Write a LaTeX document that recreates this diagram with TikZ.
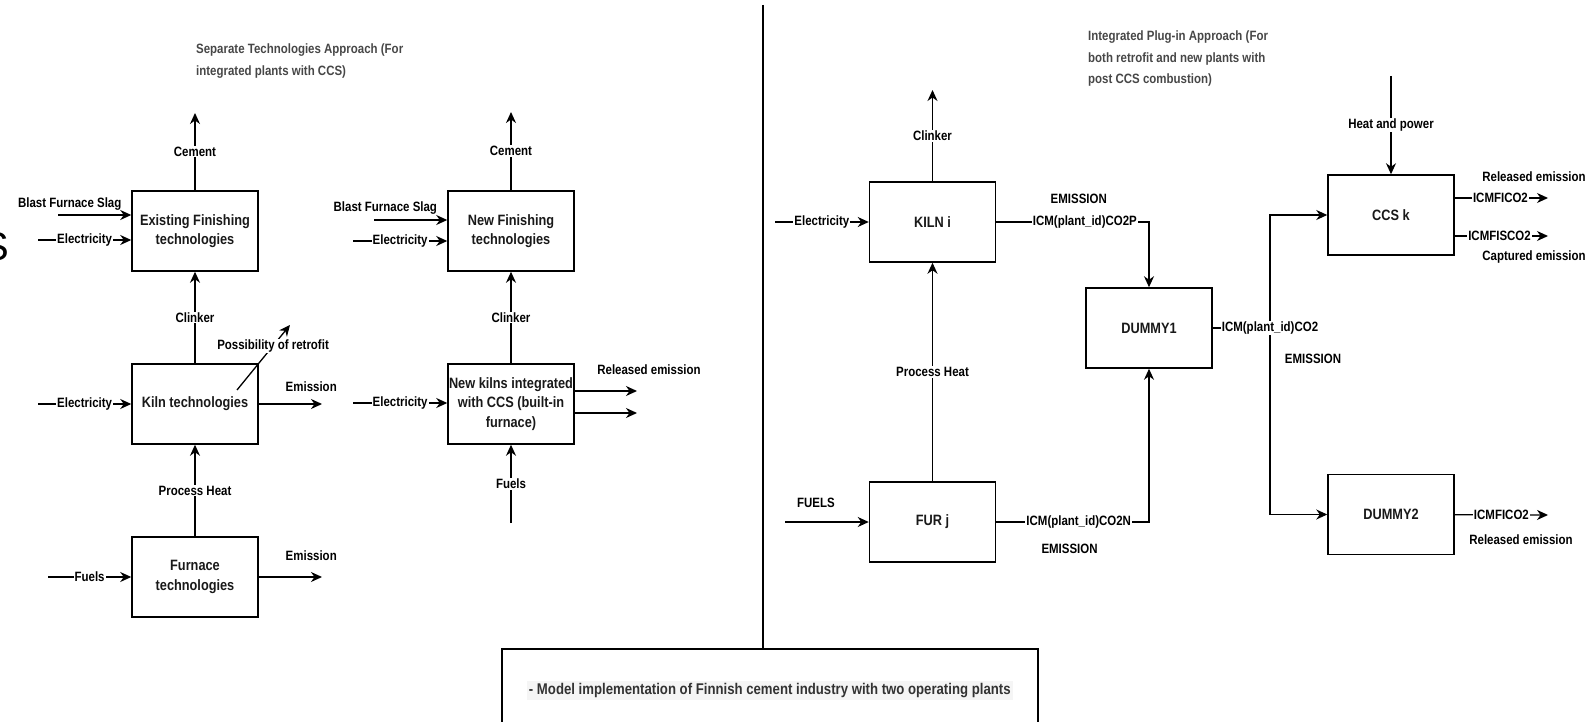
\documentclass[tikz,border=0pt]{standalone}
\usepackage{fontspec}
\setmainfont{Liberation Sans}[FakeStretch=0.85]
\newfontfamily\bigletter{Liberation Sans}
\usetikzlibrary{arrows.meta}
\newcommand{\lblsize}{\fontsize{13.5}{16}\selectfont\bfseries}
\newcommand{\boxsize}{\fontsize{15}{19.5}\selectfont\bfseries}
\newcommand{\ttlsize}{\fontsize{13.5}{21.5}\selectfont\bfseries}
\newcommand{\notesize}{\fontsize{15.5}{18}\selectfont\bfseries}

\begin{document}
\begin{tikzpicture}[x=1pt,y=-1pt,
	tech/.style={draw,line width=1.5pt,minimum width=126pt,minimum height=80pt,align=center,inner sep=1pt,font=\boxsize,text=black!90},
	flow/.style={line width=1.3pt,-{Stealth[length=11pt,width=10pt,inset=3.5pt]}},
	wire/.style={line width=1.3pt},
	lbl/.style={font=\lblsize,inner sep=1pt},
	onl/.style={lbl,fill=white},
	ttl/.style={font=\ttlsize,text=black!72,align=left,anchor=west,inner sep=0pt}]
			\useasboundingbox (0,0) rectangle (1595,722);
			\node[font=\bigletter\fontsize{40}{40}\selectfont,anchor=east,inner sep=0pt] (bigS) at (9.5,247) {S};
			\node[ttl] (ttlsep) at (196,61) {Separate Technologies Approach (For\\integrated plants with CCS)};
			\node[ttl] (ttlplug) at (1088,59) {Integrated Plug-in Approach (For\\both retrofit and new plants with\\post CCS combustion)};
			\node[tech] (ef) at (195,231) {Existing Finishing\\technologies};
			\node[tech] (kiln) at (195,404) {Kiln technologies};
			\node[tech] (fur) at (195,577) {Furnace\\technologies};
			\node[tech] (nf) at (511,231) {New Finishing\\technologies};
			\node[tech] (nk) at (511,404) {New kilns integrated\\with CCS (built-in\\furnace)};
			\node[tech] (kilni) at (932.5,222) {KILN i};
			\node[tech] (furj) at (932.5,522) {FUR j};
			\node[tech] (dummy1) at (1149,328) {DUMMY1};
			\node[tech] (ccs) at (1391,215) {CCS k};
			\node[tech] (dummy2) at (1391,514.5) {DUMMY2};
			\node[draw,line width=1.5pt,minimum width=536pt,minimum height=84pt,anchor=north west] (note) at (501,648) {};
			\node[font=\notesize,text=black!80,fill=black!4,inner sep=2pt] (notetxt) at (note.center) {- Model implementation of Finnish cement industry with two operating plants};
			\coordinate (divtop) at (763,5);
			\draw[wire] (divtop) -- (divtop |- note.north);
			\coordinate (cem1) at (195,113);
			\coordinate (slag1) at (58,215);
			\coordinate (elec1) at (38,240);
			\coordinate (elec2) at (38,404);
			\coordinate (em1) at (322,404);
			\coordinate (rt1) at (237,390);
			\coordinate (rt2) at (290,325);
			\coordinate (fuel1) at (48,577);
			\coordinate (em2) at (322,577);
			\draw[flow] (ef) -- node[onl] {Cement} (cem1);
			\draw[flow] (slag1) -- node[lbl,pos=0.16,yshift=11pt] {Blast Furnace Slag} (slag1 -| ef.west);
			\draw[flow] (elec1) -- node[onl] {Electricity} (elec1 -| ef.west);
			\draw[flow] (kiln) -- node[onl] {Clinker} (ef);
			\draw[flow] (elec2) -- node[onl] {Electricity} (kiln);
			\draw[flow] (kiln) -- node[lbl,pos=0.83,yshift=17pt] {Emission} (em1);
			\draw[flow] (rt1) -- node[onl,pos=0.68] {Possibility of retrofit} (rt2);
			\draw[flow] (fur) -- node[onl] {Process Heat} (kiln);
			\draw[flow] (fuel1) -- node[onl] {Fuels} (fur);
			\draw[flow] (fur) -- node[lbl,pos=0.83,yshift=21pt] {Emission} (em2);
			\coordinate (cem2) at (511,112);
			\coordinate (slag2) at (374,220);
			\coordinate (elec3) at (353,241);
			\coordinate (elec4) at (353,403);
			\coordinate (rel1) at (637,391);
			\coordinate (rel2) at (637,413);
			\coordinate (fuel2) at (511,523);
			\draw[flow] (nf) -- node[onl] {Cement} (cem2);
			\draw[flow] (slag2) -- node[lbl,pos=0.155,yshift=12pt] {Blast Furnace Slag} (slag2 -| nf.west);
			\draw[flow] (elec3) -- node[onl] {Electricity} (elec3 -| nf.west);
			\draw[flow] (nk) -- node[onl] {Clinker} (nf);
			\draw[flow] (elec4) -- node[onl] {Electricity} (elec4 -| nk.west);
			\draw[flow] (rel1 -| nk.east) -- node[lbl,pos=1,xshift=12pt,yshift=21pt] {Released emission} (rel1);
			\draw[flow] (rel2 -| nk.east) -- (rel2);
			\draw[flow] (fuel2) -- node[onl] {Fuels} (nk);
			\coordinate (cl3) at (932.5,90);
			\coordinate (elec5) at (775,222);
			\coordinate (fuel3) at (785,522);
			\coordinate (split) at (1270,328);
			\coordinate (heat) at (1391,76);
			\coordinate (fico) at (1548,198);
			\coordinate (fisco) at (1548,236);
			\coordinate (fico2) at (1548,515);
			\draw[flow] (kilni) -- node[onl] {Clinker} (cl3);
			\draw[flow] (elec5) -- node[onl] {Electricity} (kilni);
			\draw[flow] (kilni) -| node[onl,pos=0.29] {ICM(plant\_id)CO2P} node[lbl,pos=0.27,yshift=23pt] {EMISSION} (dummy1);
			\draw[flow] (furj) -- node[onl] {Process Heat} (kilni);
			\draw[flow] (fuel3) -- node[lbl,pos=0.37,yshift=19pt] {FUELS} (furj);
			\draw[flow] (furj) -| node[onl,pos=0.27] {ICM(plant\_id)CO2N} node[lbl,pos=0.24,yshift=-27pt] {EMISSION} (dummy1);
			\draw[wire] (dummy1) -- (split);
			\draw[flow] (split) |- (ccs);
			\draw[flow] (split) |- (dummy2);
			\node[onl] (co2lbl) at (split) {ICM(plant\_id)CO2};
			\node[lbl] (emlbl) at (1313,359) {EMISSION};
			\draw[flow] (heat) -- node[onl] {Heat and power} (ccs);
			\draw[flow] (fico -| ccs.east) -- node[onl,pos=0.49] {ICMFICO2} (fico);
			\draw[flow] (fisco -| ccs.east) -- node[onl,pos=0.48] {ICMFISCO2} (fisco);
			\draw[flow] (dummy2) -- node[onl] {ICMFICO2} (fico2);
			\node[lbl] (relccs) at (1534,177) {Released emission};
			\node[lbl] (capccs) at (1534,257) {Captured emission};
			\node[lbl] (reldum) at (1521,540) {Released emission};
		\end{tikzpicture}
\end{document}
